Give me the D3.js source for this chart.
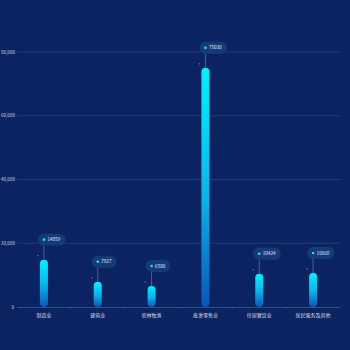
<!DOCTYPE html>
<html>
<head>
<meta charset="utf-8">
<script src="https://cdn.jsdelivr.net/npm/d3@7/dist/d3.min.js"></script>
<style>
  html, body { margin: 0; padding: 0; background: #0b2461; }
  svg { display: block; }
</style>
</head>
<body>
<svg id="chart" width="350" height="350"></svg>
<script>
const categories = ["制造业", "建筑业", "农林牧渔", "批发零售业", "住宿餐饮业", "居民服务及其他"];
const values = [14859, 7927, 6580, 75030, 10424, 10668];
const yTicks = [0, 20000, 40000, 60000, 80000];

const W = 350, H = 350;
const margin = { top: 52, right: 10, bottom: 43, left: 17 };
const svg = d3.select("#chart");
const font = "'Noto Sans CJK SC', 'Noto Sans', sans-serif";

svg.append("rect").attr("width", W).attr("height", H).attr("fill", "#0b2461");

const x = d3.scaleBand().domain(categories).range([margin.left, W - margin.right]);
const y = d3.scaleLinear().domain([0, 80000]).range([H - margin.bottom, margin.top]);

const defs = svg.append("defs");
const grad = defs.append("linearGradient").attr("id", "barGrad")
  .attr("x1", 0).attr("y1", 0).attr("x2", 0).attr("y2", 1);
grad.append("stop").attr("offset", "0%").attr("stop-color", "#00f2ff");
grad.append("stop").attr("offset", "55%").attr("stop-color", "#06b4e8");
grad.append("stop").attr("offset", "100%").attr("stop-color", "#0a55b8");

// grid lines + y labels
const gy = svg.append("g");
gy.selectAll("line").data(yTicks.filter(d => d > 0)).join("line")
  .attr("x1", margin.left).attr("x2", W - margin.right)
  .attr("y1", d => y(d)).attr("y2", d => y(d))
  .attr("stroke", "#1b3c7a").attr("stroke-width", 1);
gy.selectAll("text").data(yTicks).join("text")
  .attr("x", d => d === 0 ? 14 : 15).attr("y", d => y(d))
  .attr("dy", "0.35em").attr("text-anchor", "end")
  .attr("font-family", font).attr("font-size", 4.6)
  .attr("fill", "#c8d3e8")
  .text(d => d3.format(",")(d));

// x axis
const xAxis = d3.axisBottom(x).tickSize(0).tickPadding(6);
const gx = svg.append("g").attr("transform", `translate(0,${y(0)})`).call(xAxis);
gx.select(".domain").attr("stroke", "#2a4f8e");
gx.selectAll("text").attr("font-family", font).attr("font-size", 5).attr("fill", "#d5deef");
// band boundary ticks
svg.append("g").selectAll("line").data(categories.slice(1)).join("line")
  .attr("x1", d => x(d)).attr("x2", d => x(d))
  .attr("y1", y(0)).attr("y2", y(0) + 2)
  .attr("stroke", "#2a4f8e");

const bw = 8;
const data = categories.map((c, i) => ({ c, v: values[i] }));

// bars
svg.append("g").selectAll("rect").data(data).join("rect")
  .attr("x", d => x(d.c) + x.bandwidth() / 2 - bw / 2)
  .attr("y", d => y(d.v))
  .attr("width", bw)
  .attr("height", d => y(0) - y(d.v))
  .attr("rx", bw / 2)
  .attr("fill", "url(#barGrad)");

// value callouts
const lab = svg.append("g").selectAll("g").data(data).join("g")
  .attr("transform", d => `translate(${x(d.c) + x.bandwidth() / 2},${y(d.v)})`);
lab.append("line")
  .attr("x1", 0).attr("x2", 0).attr("y1", 0).attr("y2", -14)
  .attr("stroke", "#5a6f96").attr("stroke-width", 0.8);
lab.append("circle").attr("cx", -6).attr("cy", -4).attr("r", 0.7).attr("fill", "#6b7fa8");
lab.append("rect")
  .attr("x", -6).attr("y", -26)
  .attr("width", d => 14 + String(d.v).length * 2.7)
  .attr("height", 12).attr("rx", 6)
  .attr("fill", "#173e7c").attr("fill-opacity", 0.85);
lab.append("circle").attr("cx", 0).attr("cy", -20).attr("r", 1.3).attr("fill", "#19e3f0");
lab.append("text")
  .attr("x", 3.5).attr("y", -20).attr("dy", "0.35em")
  .attr("font-family", font).attr("font-size", 4.6).attr("fill", "#e8eef8")
  .text(d => d.v);
</script>
</body>
</html>
